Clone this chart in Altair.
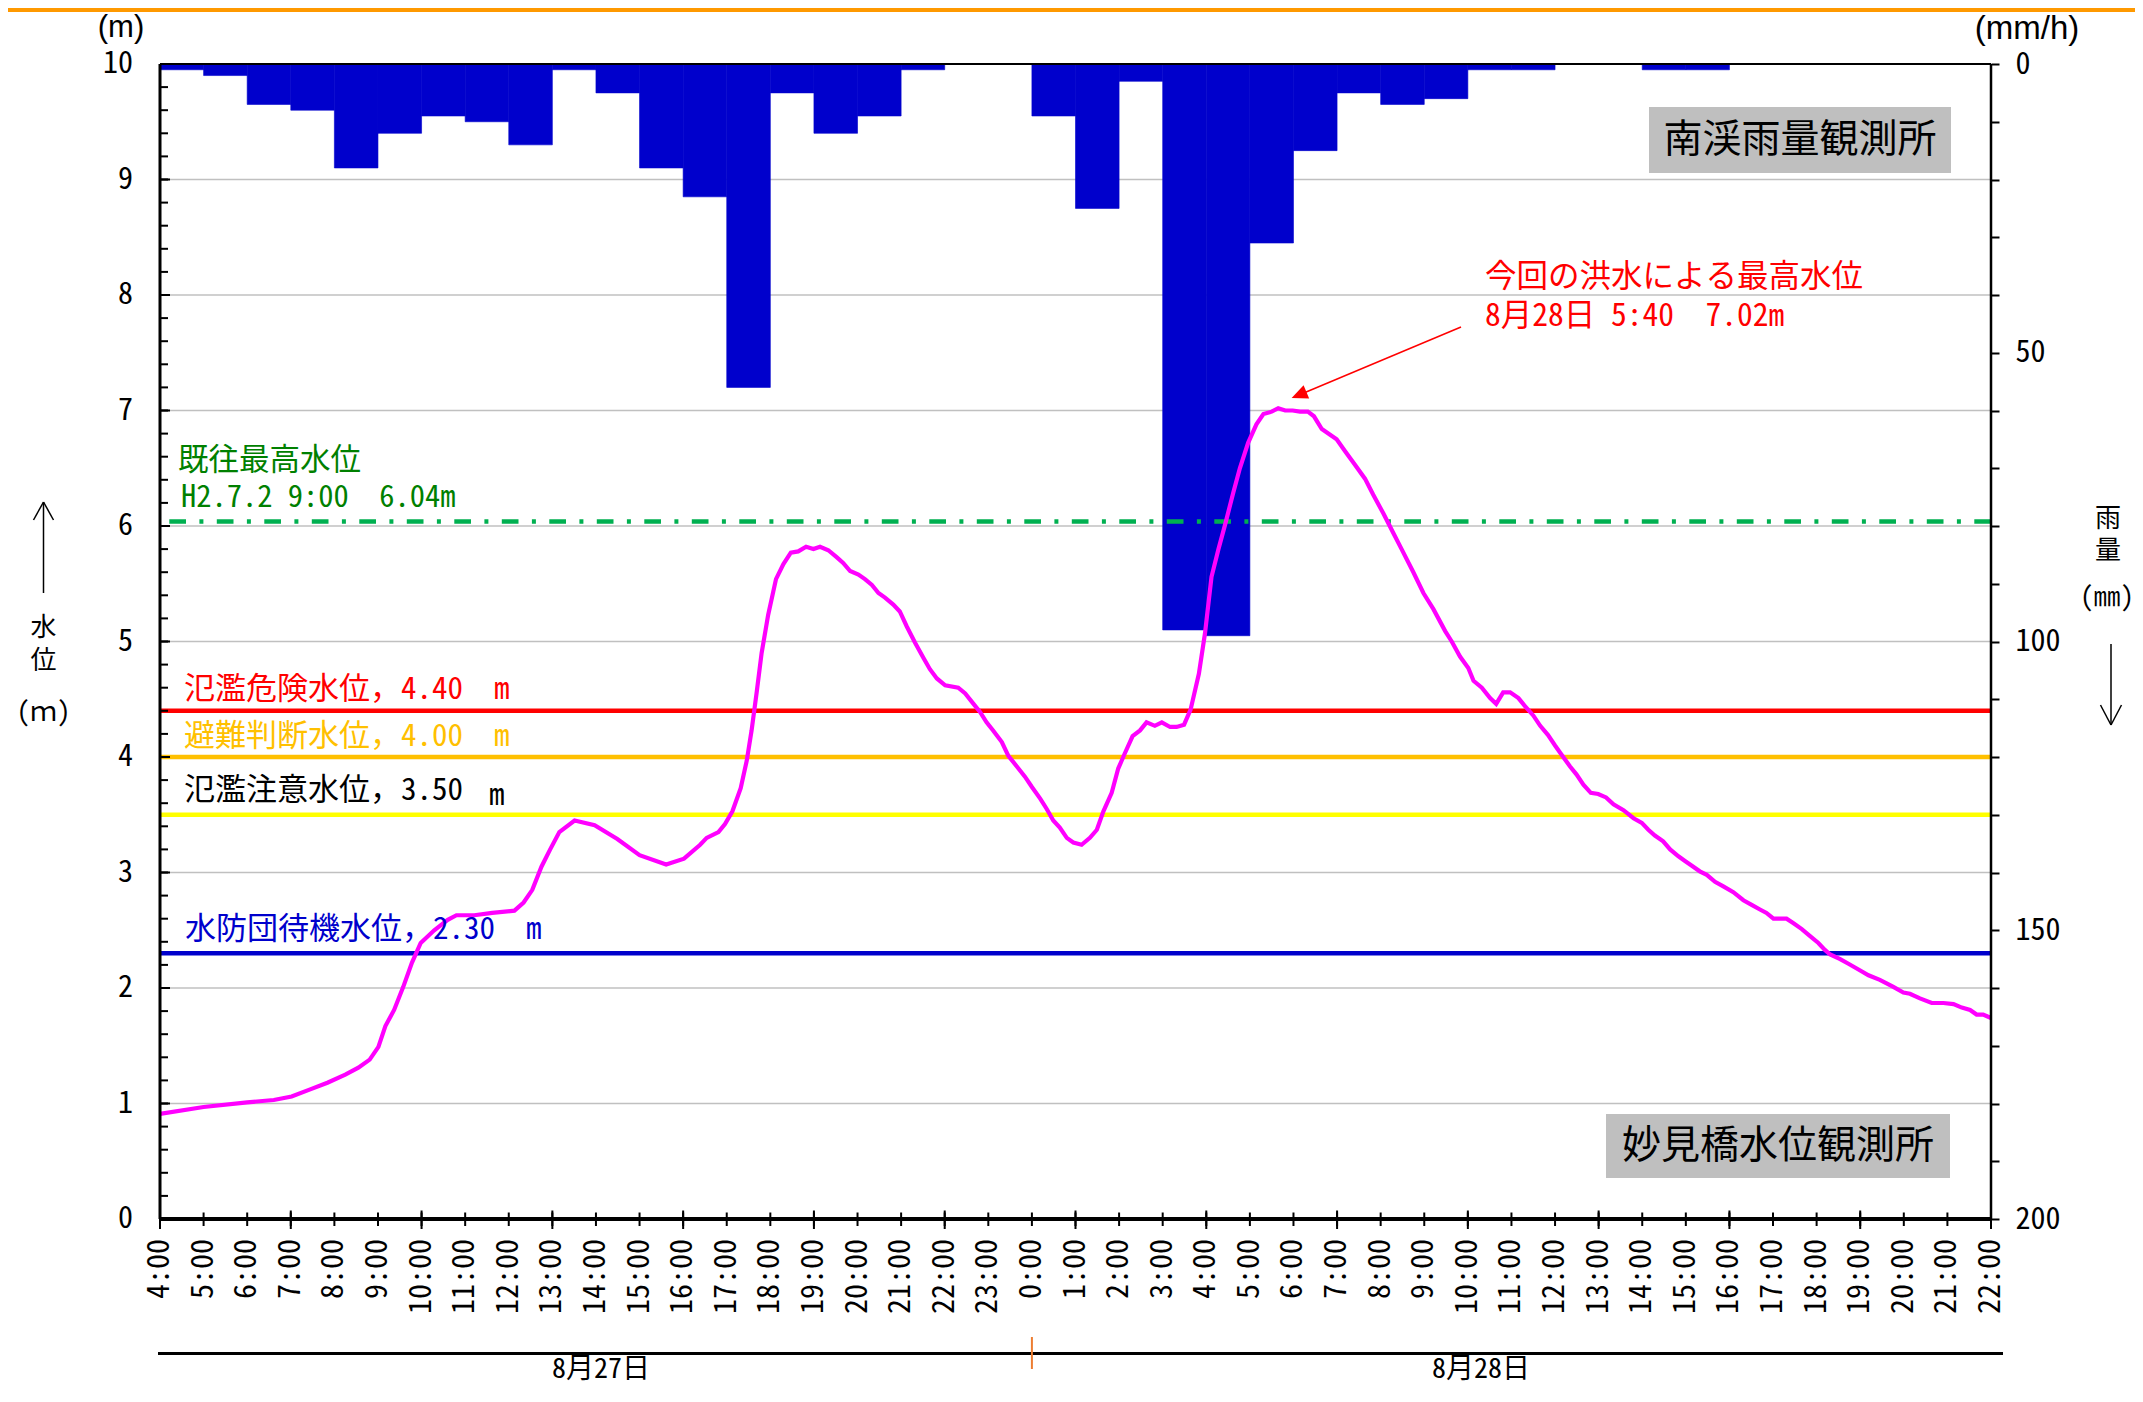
import altair as alt
import pandas as pd

# ------------------------------------------------------------------ data
HOUR_LABELS = ["4:00", "5:00", "6:00", "7:00", "8:00", "9:00", "10:00", "11:00", "12:00",
               "13:00", "14:00", "15:00", "16:00", "17:00", "18:00", "19:00", "20:00",
               "21:00", "22:00", "23:00",
               "0:00", "1:00", "2:00", "3:00", "4:00", "5:00", "6:00", "7:00", "8:00",
               "9:00", "10:00", "11:00", "12:00", "13:00", "14:00", "15:00", "16:00",
               "17:00", "18:00", "19:00", "20:00", "21:00", "22:00"]
HOUR_TICKS = list(range(43))            # hours since 8/27 4:00
MAJOR_HOUR_TICKS = list(range(0, 43, 3))
DAY_LABELS = ["8月27日", "8月28日"]
DAY_BOUNDARY = [20]                      # 8/28 0:00

# hourly rainfall (mm/h), bar i covers hour i..i+1 (from 8/27 4:00)
RAIN_HOUR = list(range(42))
RAIN_MM = [1, 2, 7, 8, 18, 12, 9, 10, 14, 1, 5, 18, 23, 56, 5, 12, 9, 1, 0, 0,
           9, 25, 3, 98, 99, 31, 15, 5, 7, 6, 1, 1, 0, 0, 1, 1, 0, 0, 0, 0, 0, 0]

# water level (m) at Myokenbashi, time in hours since 8/27 4:00
LEVEL_T = [0.00, 1.00, 2.00, 2.61, 3.02, 3.43, 3.84, 4.25, 4.55, 4.81,
           5.01, 5.17, 5.37, 5.58, 5.78, 5.98, 6.29, 6.60, 6.80, 7.21,
           7.62, 8.13, 8.34, 8.54, 8.75, 8.95, 9.16, 9.51, 9.97, 10.49,
           11.00, 11.61, 12.02, 12.39, 12.54, 12.81, 12.96, 13.13, 13.32, 13.46,
           13.57, 13.69, 13.80, 13.95, 14.13, 14.30, 14.47, 14.64, 14.82, 14.99,
           15.14, 15.33, 15.52, 15.67, 15.83, 16.02, 16.17, 16.33, 16.48, 16.63,
           16.82, 16.97, 17.13, 17.32, 17.51, 17.66, 17.82, 18.01, 18.31, 18.47,
           18.66, 18.81, 18.96, 19.11, 19.31, 19.46, 19.65, 19.84, 20.00, 20.19,
           20.34, 20.49, 20.64, 20.80, 20.95, 21.14, 21.33, 21.49, 21.64, 21.83,
           21.98, 22.13, 22.31, 22.48, 22.63, 22.82, 22.98, 23.17, 23.32, 23.49,
           23.64, 23.83, 23.97, 24.12, 24.28, 24.43, 24.62, 24.77, 24.96, 25.15,
           25.31, 25.50, 25.65, 25.81, 25.98, 26.15, 26.33, 26.47, 26.65, 26.84,
           26.99, 27.18, 27.41, 27.64, 27.83, 28.06, 28.29, 28.48, 28.75, 28.98,
           29.21, 29.48, 29.63, 29.82, 30.01, 30.13, 30.32, 30.51, 30.65, 30.81,
           30.97, 31.16, 31.31, 31.50, 31.66, 31.84, 32.00, 32.15, 32.34, 32.49,
           32.65, 32.82, 32.99, 33.17, 33.34, 33.57, 33.80, 33.99, 34.14, 34.29,
           34.48, 34.64, 34.83, 34.98, 35.13, 35.32, 35.48, 35.67, 35.86, 36.09,
           36.32, 36.51, 36.70, 36.85, 37.01, 37.16, 37.31, 37.47, 37.66, 37.85,
           38.04, 38.19, 38.31, 38.54, 38.73, 38.96, 39.19, 39.45, 39.76, 39.99,
           40.14, 40.37, 40.64, 40.91, 41.14, 41.33, 41.52, 41.67, 41.82, 42.00]
LEVEL_M = [0.91, 0.97, 1.01, 1.03, 1.06, 1.12, 1.18, 1.25, 1.31, 1.38,
           1.49, 1.67, 1.81, 2.01, 2.22, 2.39, 2.50, 2.59, 2.63, 2.63,
           2.65, 2.67, 2.74, 2.85, 3.05, 3.20, 3.35, 3.45, 3.41, 3.29,
           3.15, 3.07, 3.12, 3.24, 3.30, 3.35, 3.42, 3.53, 3.73, 3.97,
           4.23, 4.57, 4.90, 5.23, 5.54, 5.67, 5.77, 5.78, 5.82, 5.80,
           5.82, 5.79, 5.73, 5.68, 5.61, 5.58, 5.54, 5.49, 5.42, 5.38,
           5.32, 5.26, 5.13, 4.99, 4.86, 4.76, 4.68, 4.62, 4.60, 4.55,
           4.46, 4.39, 4.30, 4.23, 4.13, 4.01, 3.92, 3.83, 3.74, 3.64,
           3.55, 3.45, 3.39, 3.30, 3.26, 3.24, 3.30, 3.37, 3.53, 3.69,
           3.90, 4.03, 4.18, 4.23, 4.30, 4.27, 4.30, 4.26, 4.26, 4.28,
           4.41, 4.72, 5.07, 5.56, 5.80, 6.01, 6.29, 6.50, 6.72, 6.88,
           6.97, 6.99, 7.02, 7.00, 7.00, 6.99, 6.99, 6.95, 6.84, 6.79,
           6.75, 6.65, 6.53, 6.41, 6.27, 6.11, 5.94, 5.80, 5.60, 5.42,
           5.28, 5.09, 5.00, 4.87, 4.77, 4.66, 4.60, 4.51, 4.46, 4.56,
           4.56, 4.51, 4.44, 4.36, 4.27, 4.19, 4.10, 4.02, 3.92, 3.85,
           3.76, 3.69, 3.68, 3.65, 3.59, 3.54, 3.47, 3.43, 3.37, 3.32,
           3.27, 3.20, 3.14, 3.10, 3.06, 3.01, 2.98, 2.92, 2.88, 2.83,
           2.76, 2.72, 2.68, 2.65, 2.60, 2.60, 2.60, 2.56, 2.51, 2.45,
           2.39, 2.33, 2.29, 2.25, 2.21, 2.16, 2.11, 2.07, 2.01, 1.96,
           1.95, 1.91, 1.87, 1.87, 1.86, 1.83, 1.81, 1.77, 1.77, 1.74]

LEVEL_TICKS = list(range(11))
LEVEL_MINOR_TICKS = [round(i * 0.2, 1) for i in range(51)]
RAIN_TICKS = list(range(0, 201, 10))

THRESH_NAMES = ["氾濫危険水位", "避難判断水位", "氾濫注意水位", "水防団待機水位"]
THRESH_VALUES = [4.40, 4.00, 3.50, 2.30]
RECORD_NAME = "既往最高水位"
RECORD_DATE = "H2.7.2 9:00"
RECORD_VALUE = 6.04
PEAK_TITLE = "今回の洪水による最高水位"
PEAK_DATE = "8月28日 5:40"
PEAK_VALUE = 7.02
RAIN_STATION = "南渓雨量観測所"
LEVEL_STATION = "妙見橋水位観測所"

# ------------------------------------------------------------------ style
W, H = 1831, 1155
SP = "\u2002"   # en space (not collapsed in SVG)
FONT_MONO = "'Noto Sans Mono CJK JP', 'Noto Sans CJK JP', sans-serif"
FONT_JP = "'Noto Sans CJK JP', sans-serif"
FONT_LAT = "'Liberation Sans', Arial, sans-serif"
THRESH_COLORS = ["#FF0000", "#FFC000", "#FFFF00", "#0000CC"]
THRESH_TEXT_COLORS = ["#FF0000", "#FFC000", "#000000", "#0000CC"]
X_SCALE = alt.Scale(domain=[0, 42], nice=False, zero=False)
LEVEL_SCALE = alt.Scale(domain=[0, 10], nice=False, zero=False)
RAIN_SCALE = alt.Scale(domain=[0, 200], nice=False, zero=False, reverse=True)


def vtext(s, x, y, size, color="black", align="left", font=FONT_MONO):
    return alt.Chart().mark_text(
        text=s, align=align, baseline="middle", font=font, fontSize=size, color=color
    ).encode(x=alt.value(x), y=alt.value(y))


def vrule(x, y, x2, y2, color="black", width=2.0):
    return alt.Chart().mark_rule(color=color, strokeWidth=width).encode(
        x=alt.value(x), y=alt.value(y), x2=alt.value(x2), y2=alt.value(y2))


def vrect(x, y, x2, y2, color):
    return alt.Chart().mark_rect(color=color).encode(
        x=alt.value(x), y=alt.value(y), x2=alt.value(x2), y2=alt.value(y2))


# ------------------------------------------------------------------ grid (behind bars)
grid = alt.Chart(pd.DataFrame({"v": LEVEL_TICKS})).mark_rule(
    color="#C0C0C0", strokeWidth=1.5).encode(
    y=alt.Y("v:Q", scale=LEVEL_SCALE, axis=None))

# ------------------------------------------------------------------ rain bars
rain_df = pd.DataFrame({"h": RAIN_HOUR, "mm": RAIN_MM})
rain = alt.Chart(rain_df).transform_filter("datum.mm > 0").transform_calculate(
    h2="datum.h + 1", zero="0"
).mark_rect(color="#0000CC", stroke="#0000CC", strokeWidth=0.6).encode(
    x=alt.X("h:Q", scale=X_SCALE, axis=None),
    x2="h2:Q",
    y=alt.Y("mm:Q", scale=RAIN_SCALE, axis=alt.Axis(
        orient="right", values=RAIN_TICKS,
        labelExpr="datum.value % 50 === 0 ? datum.label : ''",
        tickSize=8, tickWidth=2, tickColor="black", labelPadding=16,
        domain=False, grid=False, labelFont=FONT_MONO, labelFontSize=30,
        labelColor="black", labelOverlap=False, title=None)),
    y2="zero:Q",
)

# ------------------------------------------------------------------ water level group
minor_ticks = alt.Chart(pd.DataFrame({"v": LEVEL_MINOR_TICKS})).mark_rule(
    color="black", strokeWidth=2).encode(
    y=alt.Y("v:Q", scale=LEVEL_SCALE, axis=None), x=alt.value(0), x2=alt.value(8))
major_ticks = alt.Chart(pd.DataFrame({"v": LEVEL_TICKS})).mark_rule(
    color="black", strokeWidth=2).encode(
    y=alt.Y("v:Q", scale=LEVEL_SCALE, axis=None), x=alt.value(0), x2=alt.value(10))
left_labels = alt.Chart(pd.DataFrame({"v": LEVEL_TICKS})).mark_text(
    align="right", baseline="middle", font=FONT_MONO, fontSize=30, color="black").encode(
    y=alt.Y("v:Q", scale=LEVEL_SCALE, axis=None), x=alt.value(-27), text="v:Q")

thresh_layers = []
for v, c in zip(THRESH_VALUES, THRESH_COLORS):
    thresh_layers.append(
        alt.Chart(pd.DataFrame({"v": [v]})).mark_rule(color=c, strokeWidth=4.5).encode(
            y=alt.Y("v:Q", scale=LEVEL_SCALE, axis=None)))
record = alt.Chart(pd.DataFrame({"v": [RECORD_VALUE]})).mark_rule(
    color="#00B050", strokeWidth=4.5, strokeDash=[16.7, 13.4, 4, 13.4]).encode(
    y=alt.Y("v:Q", scale=LEVEL_SCALE, axis=None))

level_df = pd.DataFrame({"t": LEVEL_T, "m": LEVEL_M})
level_line = alt.Chart(level_df).mark_line(color="#FF00FF", strokeWidth=4.2).encode(
    x=alt.X("t:Q", scale=X_SCALE, axis=None),
    y=alt.Y("m:Q", scale=LEVEL_SCALE, axis=None),
    order="t:Q",
)

level_group = alt.layer(*thresh_layers, record, level_line,
                        minor_ticks, major_ticks, left_labels)

# ------------------------------------------------------------------ x ticks / labels
hour_df = pd.DataFrame({"h": HOUR_TICKS, "lab": HOUR_LABELS})
x_ticks = alt.Chart(hour_df).mark_rule(color="black", strokeWidth=2).encode(
    x=alt.X("h:Q", scale=X_SCALE, axis=None),
    y=alt.value(H - 6.5), y2=alt.value(H + 7))
x_labels = alt.Chart(hour_df).mark_text(
    angle=270, align="right", baseline="middle", font=FONT_MONO, fontSize=30,
    color="black").encode(
    x=alt.X("h:Q", scale=X_SCALE, axis=None), y=alt.value(H + 20), text="lab:N")
x_major = alt.Chart(pd.DataFrame({"h": MAJOR_HOUR_TICKS})).mark_rule(
    color="black", strokeWidth=2).encode(
    x=alt.X("h:Q", scale=X_SCALE, axis=None),
    y=alt.value(H - 8.5), y2=alt.value(H + 10))
day_tick = alt.Chart(pd.DataFrame({"h": DAY_BOUNDARY})).mark_rule(
    color="#ED7D31", strokeWidth=2).encode(
    x=alt.X("h:Q", scale=X_SCALE, axis=None),
    y=alt.value(1273), y2=alt.value(1305))

# ------------------------------------------------------------------ frame
frame = [
    vrule(0, 0, W, 0, "black", 2),
    vrule(0, 0, 0, H, "black", 3),
    vrule(W, 0, W, H, "black", 2.5),
    vrule(0, H, W, H, "black", 4),
    vrule(-2, 1289.5, W + 12, 1289.5, "black", 3),
]

# ------------------------------------------------------------------ annotations
arrow_head = "M0,-1L0.9,1L-0.9,1Z"
texts = [
    vrect(-152, -56, 1975, -52, "#FF9900"),
    # station boxes
    vrect(1489, 43, 1791, 109, "#BFBFBF"),
    vtext(RAIN_STATION, 1640, 76, 39, align="center", font=FONT_JP),
    vrect(1446, 1050, 1790, 1114, "#BFBFBF"),
    vtext(LEVEL_STATION, 1618, 1082, 39, align="center", font=FONT_JP),
    # record level
    vtext(RECORD_NAME, 18, 397, 30.5, color="#008000"),
    vtext(f"{RECORD_DATE}{SP}{SP}{RECORD_VALUE:.2f}m", 21, 434, 30.5, color="#008000"),
    # threshold labels
    vtext(f"{THRESH_NAMES[0]}，{THRESH_VALUES[0]:.2f}{SP}{SP}m", 24, 625.5, 31, THRESH_TEXT_COLORS[0]),
    vtext(f"{THRESH_NAMES[1]}，{THRESH_VALUES[1]:.2f}{SP}{SP}m", 24, 673, 31, THRESH_TEXT_COLORS[1]),
    vtext(f"{THRESH_NAMES[2]}，{THRESH_VALUES[2]:.2f}", 24, 727, 31, THRESH_TEXT_COLORS[2]),
    vtext("m", 329, 731.5, 31, THRESH_TEXT_COLORS[2]),
    vtext(f"{THRESH_NAMES[3]}，{THRESH_VALUES[3]:.2f}{SP}{SP}m", 25, 866, 31, THRESH_TEXT_COLORS[3]),
    # peak annotation
    vtext(PEAK_TITLE, 1325, 214, 31.5, color="#FF0000"),
    vtext(f"{PEAK_DATE}{SP}{SP}{PEAK_VALUE:.2f}m", 1325, 253, 31.5, color="#FF0000"),
    vrule(1301, 263, 1139, 331, "#FF0000", 1.5),
    alt.Chart().mark_point(shape=arrow_head, filled=True, size=256, angle=247.2,
                           color="#FF0000", opacity=1, strokeWidth=0).encode(
        x=alt.value(1139), y=alt.value(331)),
    # axis titles
    vtext("(m)", -39, -36, 31, align="center", font=FONT_LAT),
    vtext("(mm/h)", 1867, -35, 33, align="center", font=FONT_LAT),
    # left vertical title
    vrule(-116.5, 438, -116.5, 529, "black", 1.5),
    vrule(-126.5, 456, -116.5, 438, "black", 1.5),
    vrule(-106.5, 456, -116.5, 438, "black", 1.5),
    vtext("水", -116.5, 564, 26, align="center", font=FONT_JP),
    vtext("位", -116.5, 597, 26, align="center", font=FONT_JP),
    vtext("(ｍ)", -116.5, 649, 27, align="center", font=FONT_MONO),
    # right vertical title
    vtext("雨", 1948, 455, 26, align="center", font=FONT_JP),
    vtext("量", 1948, 487, 26, align="center", font=FONT_JP),
    vtext("(㎜)", 1947, 534, 27, align="center", font=FONT_MONO),
    vrule(1951, 580, 1951, 661, "black", 1.5),
    vrule(1940.5, 641, 1951, 661, "black", 1.5),
    vrule(1961.5, 641, 1951, 661, "black", 1.5),
    # day labels
    vtext(DAY_LABELS[0], 441, 1306, 28, align="center"),
    vtext(DAY_LABELS[1], 1321, 1306, 28, align="center"),
]

chart = alt.layer(
    grid, rain, level_group, *frame, x_ticks, x_major, x_labels, day_tick, *texts
).resolve_scale(y="independent").properties(
    width=W, height=H,
    autosize=alt.AutoSizeParams(type="none"),
    padding={"left": 152, "top": 56, "right": 144, "bottom": 166},
    background="white",
).configure_view(strokeWidth=0)

chart.save("out.html", embed_options={"renderer": "svg", "actions": False})
